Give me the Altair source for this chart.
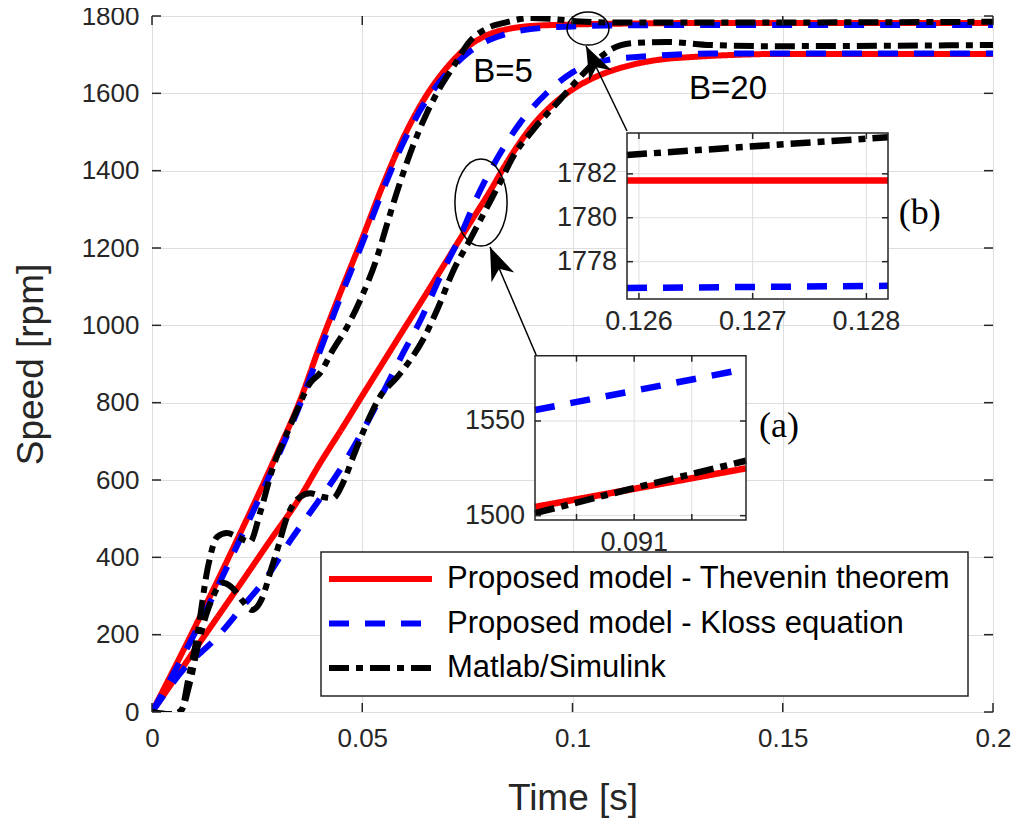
import altair as alt
import pandas as pd

# ---------------- data ----------------
NAMES = ["Proposed model - Thevenin theorem", "Proposed model - Kloss equation", "Matlab/Simulink"]
COLORS = ["#ff0000", "#0000ff", "#000000"]
DASHES = [[1, 0], [20, 16], [20, 7, 7, 7]]

# B = 5
T_TH5 = [0, 0.01, 0.02, 0.03, 0.035, 0.04, 0.045, 0.05, 0.055, 0.06, 0.065, 0.07, 0.075, 0.08, 0.085, 0.09, 0.1, 0.11, 0.12, 0.13, 0.2]
V_TH5 = [0, 215, 440, 675, 800, 950, 1090, 1225, 1365, 1490, 1590, 1665, 1720, 1752, 1767, 1774, 1778, 1780, 1781.3, 1781.7, 1781.7]
T_KL5 = [0, 0.01, 0.02, 0.03, 0.035, 0.04, 0.045, 0.05, 0.055, 0.06, 0.065, 0.07, 0.075, 0.08, 0.085, 0.09, 0.1, 0.11, 0.12, 0.13, 0.2]
V_KL5 = [0, 200, 425, 662, 790, 935, 1078, 1212, 1352, 1478, 1578, 1650, 1703, 1737, 1756, 1766, 1773, 1775.5, 1776.4, 1776.8, 1776.9]
T_SIM5 = [0, 0.002, 0.005, 0.007, 0.0086, 0.0107, 0.0133, 0.0155, 0.0178, 0.0205, 0.0233, 0.0257, 0.0288, 0.0321,
          0.0345, 0.0376, 0.04, 0.043, 0.0464, 0.0495, 0.0535, 0.0559, 0.059, 0.0621, 0.0654, 0.0685, 0.0716,
          0.0756, 0.0797, 0.0844, 0.0899, 0.0954, 0.1018, 0.11, 0.126, 0.2]
V_SIM5 = [0, -4, -6, 5, 83, 194, 375, 453, 463, 452, 440, 515, 634, 721,
          781, 851, 877, 936, 996, 1065, 1175, 1262, 1370, 1465, 1550, 1615, 1668,
          1735, 1768, 1784, 1795, 1792, 1786, 1783, 1783, 1785]

# B = 20
T_TH20 = [0, 0.01, 0.02, 0.028, 0.035, 0.04, 0.045, 0.05, 0.055, 0.06, 0.065, 0.07, 0.075, 0.08, 0.085,
          0.09, 0.095, 0.1, 0.105, 0.11, 0.115, 0.12, 0.13, 0.14, 0.15, 0.2]
V_TH20 = [0, 158, 315, 442, 552, 644, 730, 818, 905, 992, 1078, 1166, 1254, 1340, 1432,
          1510, 1568, 1610, 1640, 1661, 1676, 1686, 1695, 1700, 1702, 1702]
T_KL20 = [0, 0.002, 0.0074, 0.0155, 0.0209, 0.0273, 0.033, 0.0392, 0.0447, 0.0502, 0.0549, 0.0597, 0.0642,
          0.0685, 0.0732, 0.0773, 0.082, 0.0875, 0.0939, 0.1001, 0.1082, 0.1153, 0.1225, 0.133, 0.2]
V_KL20 = [0, 31, 109, 194, 264, 349, 445, 540, 626, 729, 825, 928, 1021,
          1125, 1228, 1332, 1430, 1523, 1601, 1655, 1686, 1694, 1699, 1703, 1703]
T_SIM20 = [0, 0.002, 0.005, 0.007, 0.009, 0.011, 0.013, 0.0145, 0.0167, 0.019, 0.0215, 0.0238, 0.026, 0.0285,
           0.03, 0.0321, 0.0352, 0.0376, 0.0407, 0.043, 0.0454, 0.0478, 0.0511, 0.0542, 0.0583, 0.0614, 0.0644,
           0.068, 0.0716, 0.0756, 0.0797, 0.0828, 0.0858, 0.0906, 0.097, 0.1018, 0.1058, 0.1089, 0.1144, 0.1225,
           0.1327, 0.1462, 0.2]
V_SIM20 = [0, -4, -6, 5, 75, 175, 255, 298, 334, 322, 288, 264, 290, 375,
           427, 504, 556, 566, 556, 553, 592, 659, 747, 815, 866, 910, 962,
           1045, 1140, 1221, 1306, 1370, 1435, 1505, 1583, 1642, 1686, 1712, 1730, 1733,
           1725, 1722, 1725]

# inset (a)
A_T = [0.09014, 0.091, 0.09197]
A_TH = [1504.6, 1514.0, 1525.0]
A_KL = [1555.8, 1566.0, 1577.5]
A_SIM = [1501.3, 1514.6, 1529.0]
A_XDOM = [0.09014, 0.09197]
A_YDOM = [1497.7, 1584.5]
A_XGRID = [0.0905, 0.091, 0.0915]
A_YGRID = [1500, 1550]
A_XLAB = [0.091]
A_XLAB_TXT = ["0.091"]
A_YLAB = [1500, 1550]

# inset (b)
B_T = [0.125895, 0.12819]
B_TH = [1781.7, 1781.7]
B_KL = [1776.8, 1776.9]
B_SIM = [1782.86, 1783.67]
B_XDOM = [0.125895, 0.12819]
B_YDOM = [1776.3, 1783.86]
B_XGRID = [0.126, 0.127, 0.128]
B_YGRID = [1778, 1780, 1782]
B_XLAB_TXT = ["0.126", "0.127", "0.128"]

X_TICKS = [0, 0.05, 0.1, 0.15, 0.2]
Y_TICKS = [0, 200, 400, 600, 800, 1000, 1200, 1400, 1600, 1800]

# annotations (data coordinates)
LABEL_TXT = ["B=5", "B=20"]
LABEL_T = [0.0835, 0.137]
LABEL_V = [1654, 1610]
TAG_TXT = ["(a)", "(b)"]
TAG_T = [0.1491, 0.1826]
TAG_V = [740, 1290]
ELL_T = [0.07824, 0.10368]
ELL_V = [1317.6, 1767.6]
ARR_T0 = [0.09156, 0.11296]
ARR_V0 = [918, 1502.6]
ARR_T1 = [0.08038, 0.10321]
ARR_V1 = [1202.6, 1722.4]
ARR_ANG = [337, 334]

# ---------------- styling ----------------
W, H = 841, 696
FONT = "Liberation Sans"
INK = "#262626"
GRID = "#dedede"


def lin(domain, rng=None):
    if rng is None:
        return alt.Scale(domain=domain, nice=False, zero=False)
    return alt.Scale(domain=domain, range=rng, nice=False, zero=False)


XM = lin([0, 0.2])
YM = lin([0, 1800])
XA = lin(A_XDOM, [383, 594])
YA = lin(A_YDOM, [504, 339.7])
XB = lin(B_XDOM, [475, 736])
YB = lin(B_YDOM, [283, 117])

AX_X = alt.Axis(values=X_TICKS, format="~g", title="Time [s]", grid=True, gridColor=GRID, gridWidth=1,
                ticks=False, tickSize=0, domain=False, labelFontSize=26, labelColor=INK, labelPadding=13,
                labelFlush=False, labelFont=FONT, titleFont=FONT, titleFontSize=37, titleColor=INK,
                titleFontWeight="normal", titlePadding=29)
AX_Y = alt.Axis(values=Y_TICKS, format="d", title="Speed [rpm]", grid=True, gridColor=GRID, gridWidth=1,
                ticks=False, tickSize=0, domain=False, labelFontSize=26, labelColor=INK, labelPadding=13,
                labelFlush=False, labelFont=FONT, titleFont=FONT, titleFontSize=37, titleColor=INK,
                titleFontWeight="normal", titlePadding=31)

COLOR_ENC = alt.Color("model:N", scale=alt.Scale(domain=NAMES, range=COLORS), legend=None)
DASH_ENC = alt.StrokeDash("model:N", scale=alt.Scale(domain=NAMES, range=DASHES), legend=None)


def series(t, v, model, case):
    return pd.DataFrame({"t": t, "v": v, "model": model, "case": case})


def lines(df, sx, sy, ax, ay, width, interp):
    return alt.Chart(df).mark_line(strokeWidth=width, interpolate=interp, clip=True).encode(
        x=alt.X("t:Q", scale=sx, axis=ax), y=alt.Y("v:Q", scale=sy, axis=ay),
        color=COLOR_ENC, strokeDash=DASH_ENC, detail="case:N")


def inner_ticks(xvals, yvals, xdom, ydom, sx, sy, ax, ay, length):
    out = []
    enc = dict(x=alt.X("t:Q", scale=sx, axis=ax), y=alt.Y("v:Q", scale=sy, axis=ay))
    out.append(alt.Chart(pd.DataFrame({"t": xvals, "v": ydom[0]})).mark_rule(
        color=INK, strokeWidth=1.5, y2Offset=-length).encode(y2="v", **enc))
    out.append(alt.Chart(pd.DataFrame({"t": xvals, "v": ydom[1]})).mark_rule(
        color=INK, strokeWidth=1.5, y2Offset=length).encode(y2="v", **enc))
    out.append(alt.Chart(pd.DataFrame({"t": xdom[0], "v": yvals})).mark_rule(
        color=INK, strokeWidth=1.5, x2Offset=length).encode(x2="t", **enc))
    out.append(alt.Chart(pd.DataFrame({"t": xdom[1], "v": yvals})).mark_rule(
        color=INK, strokeWidth=1.5, x2Offset=-length).encode(x2="t", **enc))
    return out


# ---------------- main panel ----------------
main_layers = []
for t5, v5, t20, v20, name in [(T_TH5, V_TH5, T_TH20, V_TH20, NAMES[0]),
                               (T_KL5, V_KL5, T_KL20, V_KL20, NAMES[1]),
                               (T_SIM5, V_SIM5, T_SIM20, V_SIM20, NAMES[2])]:
    df = pd.concat([series(t5, v5, name, "B=5"), series(t20, v20, name, "B=20")])
    main_layers.append(lines(df, XM, YM, AX_X, AX_Y, 6, "monotone"))

main_layers += inner_ticks(X_TICKS, Y_TICKS, [0, 0.2], [0, 1800], XM, YM, AX_X, AX_Y, 9)

enc_m = dict(x=alt.X("t:Q", scale=XM, axis=AX_X), y=alt.Y("v:Q", scale=YM, axis=AX_Y))

main_layers.append(alt.Chart(pd.DataFrame({"t": LABEL_T, "v": LABEL_V, "txt": LABEL_TXT})).mark_text(
    font=FONT, fontSize=33, color="#000000", align="center", baseline="middle").encode(text="txt:N", **enc_m))
main_layers.append(alt.Chart(pd.DataFrame({"t": TAG_T, "v": TAG_V, "txt": TAG_TXT})).mark_text(
    font="Liberation Serif", fontSize=36, color="#000000", align="center", baseline="middle").encode(
    text="txt:N", **enc_m))

ELL1 = "M-0.6,0A0.6,1,0,1,1,0.6,0A0.6,1,0,1,1,-0.6,0Z"
ELL2 = "M-1,0A1,0.79,0,1,1,1,0A1,0.79,0,1,1,-1,0Z"
main_layers.append(alt.Chart(pd.DataFrame({"t": ELL_T[:1], "v": ELL_V[:1]})).mark_point(
    shape=ELL1, size=7569, filled=False, stroke="#000000", strokeWidth=1.5, opacity=1).encode(**enc_m))
main_layers.append(alt.Chart(pd.DataFrame({"t": ELL_T[1:], "v": ELL_V[1:]})).mark_point(
    shape=ELL2, size=1764, filled=False, stroke="#000000", strokeWidth=1.5, opacity=1).encode(**enc_m))

main_layers.append(alt.Chart(pd.DataFrame({"t": ARR_T0, "v": ARR_V0, "t2": ARR_T1, "v2": ARR_V1})).mark_rule(
    color="#000000", strokeWidth=1.5).encode(x2="t2", y2="v2", **enc_m))
ARROW = "M0,0L0.6,1.6L0,1.15L-0.6,1.6Z"
main_layers.append(alt.Chart(pd.DataFrame({"t": ARR_T1, "v": ARR_V1, "ang": ARR_ANG})).mark_point(
    shape=ARROW, size=1700, filled=True, color="#000000", opacity=1).encode(
    angle=alt.Angle("ang:Q", scale=None), **enc_m))

main = alt.layer(*main_layers)


# ---------------- insets ----------------
def inset(xdom, ydom, sx, sy, xgrid, ygrid, t_vals, th, kl, sim, t_sim, xlab, xlab_txt, ylab):
    enc = dict(x=alt.X("t:Q", scale=sx, axis=None), y=alt.Y("v:Q", scale=sy, axis=None))
    box = pd.DataFrame({"t": [xdom[0]], "t2": [xdom[1]], "v": [ydom[0]], "v2": [ydom[1]]})
    ls = [alt.Chart(box).mark_rect(fill="white").encode(x2="t2", y2="v2", **enc)]
    ls.append(alt.Chart(pd.DataFrame({"t": xgrid, "v": ydom[0], "v2": ydom[1]})).mark_rule(
        color=GRID, strokeWidth=1).encode(y2="v2", **enc))
    ls.append(alt.Chart(pd.DataFrame({"t": xdom[0], "t2": xdom[1], "v": ygrid})).mark_rule(
        color=GRID, strokeWidth=1).encode(x2="t2", **enc))
    df = pd.concat([series(t_vals, th, NAMES[0], "in"), series(t_vals, kl, NAMES[1], "in"),
                    series(t_sim, sim, NAMES[2], "in")])
    for nm in NAMES:
        ls.append(lines(df[df["model"] == nm], sx, sy, None, None, 6.5, "linear"))
    ls += inner_ticks(xgrid, ygrid, xdom, ydom, sx, sy, None, None, 6)
    ls.append(alt.Chart(box).mark_rect(fillOpacity=0, stroke=INK, strokeWidth=1.5).encode(
        x2="t2", y2="v2", **enc))
    ls.append(alt.Chart(pd.DataFrame({"t": xdom[0], "v": ylab, "txt": [str(y) for y in ylab]})).mark_text(
        font=FONT, fontSize=27, color=INK, align="right", baseline="middle", dx=-10).encode(text="txt:N", **enc))
    ls.append(alt.Chart(pd.DataFrame({"t": xlab, "v": ydom[0], "txt": xlab_txt})).mark_text(
        font=FONT, fontSize=27, color=INK, align="center", baseline="top", dy=10).encode(text="txt:N", **enc))
    return alt.layer(*ls)


inset_a = inset(A_XDOM, A_YDOM, XA, YA, A_XGRID, A_YGRID, [A_T[0], A_T[2]], [A_TH[0], A_TH[2]],
                [A_KL[0], A_KL[2]], A_SIM, A_T, A_XLAB, A_XLAB_TXT, A_YLAB)
inset_b = inset(B_XDOM, B_YDOM, XB, YB, B_XGRID, B_YGRID, B_T, B_TH, B_KL, B_SIM, B_T, B_XGRID,
                B_XLAB_TXT, B_YGRID)

# ---------------- legend ----------------
LEG_ROWS = [0, 1, 2]
leg_df = pd.DataFrame({"model": NAMES, "row": LEG_ROWS})
leg_y = alt.Y("row:Q", scale=alt.Scale(domain=[0, 2], range=[563, 652], nice=False, zero=False), axis=None)
leg_box = alt.Chart(pd.DataFrame({"a": [0]})).mark_rect(fill="white", stroke=INK, strokeWidth=1.5).encode(
    x=alt.value(169), x2=alt.value(816), y=alt.value(536), y2=alt.value(680))
leg_lines = alt.Chart(leg_df).mark_rule(strokeWidth=6).encode(
    x=alt.value(177), x2=alt.value(280), y=leg_y, color=COLOR_ENC, strokeDash=DASH_ENC)
leg_text = alt.Chart(leg_df).mark_text(font=FONT, fontSize=31, color="#000000", align="left",
                                        baseline="middle").encode(x=alt.value(295), y=leg_y, text="model:N")
legend = alt.layer(leg_box, leg_lines, leg_text)

chart = alt.layer(main, inset_a, inset_b, legend).resolve_scale(x="independent", y="independent").properties(
    width=W, height=H, padding={"left": 144, "top": 8, "right": 20, "bottom": 110},
    autosize=alt.AutoSizeParams(type="none"), background="white"
).configure_view(stroke=INK, strokeWidth=1.5).configure(font=FONT)

chart.save("out.html", embed_options={"renderer": "svg", "actions": False})
